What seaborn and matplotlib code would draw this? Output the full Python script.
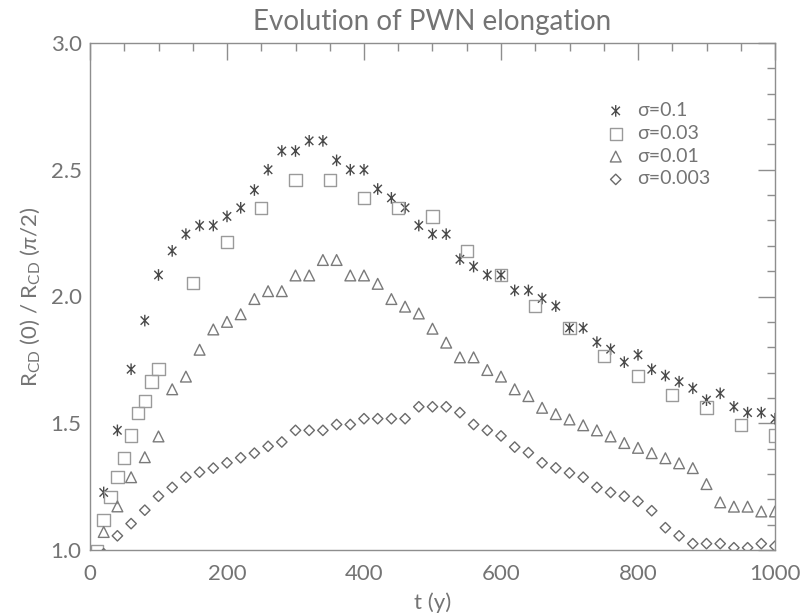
import numpy as np
import pandas as pd
import matplotlib
matplotlib.use("Agg")
import matplotlib.pyplot as plt
from matplotlib.ticker import MultipleLocator
from matplotlib.path import Path
import seaborn as sns

# ---------------- data ----------------
t_star = [20, 40, 60, 80, 100, 120, 140, 160, 180, 200, 220, 240, 260, 280, 300, 320, 340,
          360, 380, 400, 420, 440, 460, 480, 500, 520, 540, 560, 580, 600, 620, 640, 660,
          680, 700, 720, 740, 760, 780, 800, 820, 840, 860, 880, 900, 920, 940, 960, 980, 1000]
v_star = [1.227, 1.472, 1.713, 1.905, 2.085, 2.18, 2.246, 2.28, 2.28, 2.316, 2.35, 2.42,
          2.50, 2.574, 2.574, 2.614, 2.614, 2.537, 2.50, 2.50, 2.424, 2.389, 2.35, 2.28,
          2.246, 2.246, 2.147, 2.118, 2.085, 2.085, 2.024, 2.024, 1.992, 1.962, 1.876,
          1.876, 1.82, 1.792, 1.741, 1.77, 1.713, 1.688, 1.664, 1.638, 1.591, 1.618,
          1.565, 1.542, 1.542, 1.518]

t_square = [10, 20, 30, 40, 50, 60, 70, 80, 90, 100, 150, 200, 250, 300, 350, 400, 450,
            500, 550, 600, 650, 700, 750, 800, 850, 900, 950, 1000]
v_square = [0.995, 1.118, 1.208, 1.287, 1.364, 1.451, 1.541, 1.588, 1.664, 1.714, 2.054,
            2.215, 2.35, 2.46, 2.46, 2.389, 2.35, 2.316, 2.18, 2.085, 1.962, 1.876, 1.766,
            1.687, 1.611, 1.562, 1.492, 1.452]

t_tri = [20, 40, 60, 80, 100, 120, 140, 160, 180, 200, 220, 240, 260, 280, 300, 320, 340,
         360, 380, 400, 420, 440, 460, 480, 500, 520, 540, 560, 580, 600, 620, 640, 660,
         680, 700, 720, 740, 760, 780, 800, 820, 840, 860, 880, 900, 920, 940, 960, 980, 1000]
v_tri = [1.071, 1.172, 1.287, 1.366, 1.448, 1.634, 1.684, 1.79, 1.87, 1.90, 1.93, 1.99,
         2.021, 2.021, 2.083, 2.083, 2.144, 2.144, 2.083, 2.083, 2.05, 1.99, 1.96, 1.933,
         1.873, 1.818, 1.76, 1.76, 1.71, 1.684, 1.634, 1.607, 1.561, 1.536, 1.515, 1.492,
         1.472, 1.448, 1.422, 1.403, 1.382, 1.362, 1.342, 1.323, 1.26, 1.188, 1.171,
         1.171, 1.152, 1.152]

t_dia = [20, 40, 60, 80, 100, 120, 140, 160, 180, 200, 220, 240, 260, 280, 300, 320, 340,
         360, 380, 400, 420, 440, 460, 480, 500, 520, 540, 560, 580, 600, 620, 640, 660,
         680, 700, 720, 740, 760, 780, 800, 820, 840, 860, 880, 900, 920, 940, 960, 980, 1000]
v_dia = [0.985, 1.056, 1.104, 1.157, 1.212, 1.247, 1.287, 1.307, 1.323, 1.344, 1.364,
         1.382, 1.409, 1.426, 1.472, 1.472, 1.472, 1.495, 1.495, 1.518, 1.518, 1.518,
         1.518, 1.565, 1.565, 1.565, 1.542, 1.495, 1.472, 1.45, 1.406, 1.384, 1.344,
         1.324, 1.304, 1.287, 1.247, 1.227, 1.212, 1.192, 1.155, 1.088, 1.056, 1.025,
         1.025, 1.025, 1.009, 1.009, 1.025, 1.015]

labels = ["\u03c3=0.1", "\u03c3=0.03", "\u03c3=0.01", "\u03c3=0.003"]
x_ticks = [0, 200, 400, 600, 800, 1000]
y_ticks = [1.0, 1.5, 2.0, 2.5, 3.0]
title = "Evolution of PWN elongation"
xlabel = "t (y)"
ylabel = r"R$_{\rm CD}$ (0) / R$_{\rm CD}$ ($\pi$/2)"

# ---------------- style ----------------
sns.set_theme(style="white")
FAM = ["Lato", "DejaVu Sans"]
plt.rcParams["font.family"] = FAM
plt.rcParams["font.weight"] = "normal"
plt.rcParams["mathtext.fontset"] = "custom"
plt.rcParams["mathtext.rm"] = "Lato"
plt.rcParams["mathtext.it"] = "Lato:italic"
GRAY = "#8e8e8e"
TXT = "#747474"

# IDL-like asterisk: vertical bar plus an X
star_path = Path(
    [(0, -1), (0, 1), (-0.72, -0.72), (0.72, 0.72), (-0.72, 0.72), (0.72, -0.72)],
    [Path.MOVETO, Path.LINETO, Path.MOVETO, Path.LINETO, Path.MOVETO, Path.LINETO],
)

fig = plt.figure(figsize=(8.01, 6.16), dpi=100)
ax = fig.add_axes([90 / 801, 1 - 550 / 616, 685 / 801, 507 / 616])

series = [
    (t_star, v_star, star_path, 70, "#4a4a4a"),
    (t_square, v_square, "s", 80, "#9a9a9a"),
    (t_tri, v_tri, "^", 60, "#7a7a7a"),
    (t_dia, v_dia, "D", 28, "#6a6a6a"),
]
for (tx, vy, mk, s, col), lab in zip(series, labels):
    df = pd.DataFrame({"t": tx, "v": vy})
    sns.scatterplot(data=df, x="t", y="v", marker=mk, s=s, facecolor="none",
                    edgecolor=col, linewidth=1.0, ax=ax, label=lab)

ax.set_xlim(0, 1000)
ax.set_ylim(1.0, 3.0)
ax.set_xticks(x_ticks)
ax.set_yticks(y_ticks)
ax.set_xticklabels([str(v) for v in x_ticks])
ax.set_yticklabels([f"{v:.1f}" for v in y_ticks])
ax.xaxis.set_minor_locator(MultipleLocator(50))
ax.yaxis.set_minor_locator(MultipleLocator(0.1))
ax.tick_params(which="both", direction="in", top=True, right=True, color=GRAY,
               labelcolor=TXT, labelsize=16, width=1.0)
ax.tick_params(which="major", length=12)
ax.tick_params(which="minor", length=6)
ax.tick_params(axis="x", which="major", pad=10)
ax.tick_params(axis="y", which="major", pad=6)
for sp in ax.spines.values():
    sp.set_color(GRAY)
    sp.set_linewidth(1.0)

ax.set_xlabel(xlabel, fontsize=16, color=TXT)
ax.set_ylabel(ylabel, fontsize=16, color=TXT)
ax.xaxis.label.set_verticalalignment("center")
ax.yaxis.label.set_verticalalignment("center")
ax.xaxis.set_label_coords(0.5, -(603 - 550) / 507)
ax.yaxis.set_label_coords(-(90 - 30) / 685, 0.5)
fig.text((90 + 775) / 2 / 801, 1 - 22 / 616, title, ha="center", va="center",
         fontsize=20, color=TXT)

leg = ax.legend(loc="upper left", bbox_to_anchor=((606 - 90) / 685, (550 - 102) / 507),
                frameon=False, fontsize=14, handlelength=1.0, handletextpad=0.6,
                borderpad=0, borderaxespad=0, labelspacing=0.3)
for txt in leg.get_texts():
    txt.set_color(TXT)

fig.savefig("out.png", dpi=100)
